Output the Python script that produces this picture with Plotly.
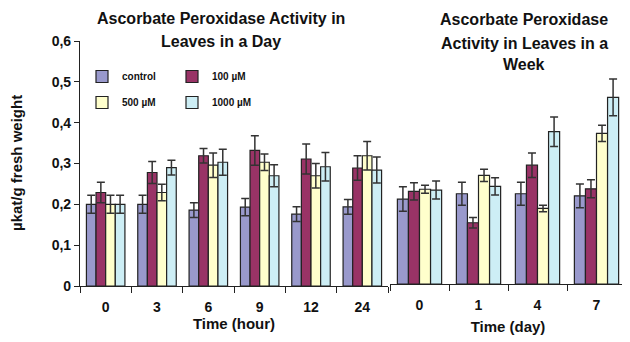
import plotly.graph_objects as go

series_names = ["control", "100 µM", "500 µM", "1000 µM"]
colors = ["#9999cc", "#993366", "#ffffcc", "#cdeef5"]

hour_labels = ["0", "3", "6", "9", "12", "24"]
day_labels = ["0", "1", "4", "7"]

hour_values = [
    [0.20, 0.20, 0.186, 0.193, 0.176, 0.194],
    [0.229, 0.278, 0.319, 0.332, 0.311, 0.289],
    [0.20, 0.229, 0.296, 0.303, 0.27, 0.319],
    [0.20, 0.29, 0.303, 0.27, 0.292, 0.284],
]
hour_errors = [
    [0.022, 0.022, 0.018, 0.021, 0.018, 0.018],
    [0.025, 0.027, 0.018, 0.036, 0.037, 0.03],
    [0.022, 0.02, 0.03, 0.02, 0.03, 0.035],
    [0.022, 0.018, 0.032, 0.027, 0.035, 0.032],
]

day_values = [
    [0.208, 0.221, 0.221, 0.216],
    [0.227, 0.150, 0.291, 0.233],
    [0.232, 0.266, 0.185, 0.369],
    [0.230, 0.239, 0.373, 0.457],
]
day_errors = [
    [0.03, 0.028, 0.028, 0.029],
    [0.021, 0.013, 0.03, 0.022],
    [0.01, 0.015, 0.008, 0.02],
    [0.022, 0.021, 0.036, 0.045],
]

y_ticks = [0, 0.1, 0.2, 0.3, 0.4, 0.5, 0.6]
y_ticktext = ["0", "0,1", "0,2", "0,3", "0,4", "0,5", "0,6"]

left_title = ["Ascorbate Peroxidase Activity in", "Leaves in a Day"]
right_title = ["Ascorbate Peroxidase", "Activity in Leaves in a", "Week"]
y_title = "µkat/g fresh weight"

FONT = "Liberation Sans, Arial, sans-serif"
# page has an 8px body margin; figure drawn in the remaining area
OFF = 8
W, H = 630 - OFF, 342 - OFF


def px(x):
    return (x - OFF) / W


def py(y):
    return 1 - (y - OFF) / H


fig = go.Figure()
for i, name in enumerate(series_names):
    fig.add_trace(go.Bar(
        x=hour_labels, y=hour_values[i], name=name,
        marker=dict(color=colors[i], line=dict(color="#222", width=1.2)),
        error_y=dict(type="data", array=hour_errors[i], color="#333", thickness=1.5, width=4),
        xaxis="x", yaxis="y",
        legend="legend" if i < 2 else "legend2",
    ))
for i, name in enumerate(series_names):
    fig.add_trace(go.Bar(
        x=day_labels, y=day_values[i], name=name, showlegend=False,
        marker=dict(color=colors[i], line=dict(color="#222", width=1.2)),
        error_y=dict(type="data", array=day_errors[i], color="#333", thickness=1.5, width=4),
        xaxis="x2", yaxis="y2",
    ))

tickfont = dict(family=FONT, size=14, color="#111", weight="bold")
legfont = dict(family=FONT, size=10, color="#111", weight="bold")

annotations = []
for text, yc in zip(left_title, [18, 41]):
    annotations.append(dict(text="<b>%s</b>" % text, x=px(221), y=py(yc), xref="paper", yref="paper",
                            xanchor="center", yanchor="middle", showarrow=False,
                            font=dict(family=FONT, size=16, color="#111")))
for text, yc in zip(right_title, [20, 43, 64]):
    annotations.append(dict(text="<b>%s</b>" % text, x=px(524), y=py(yc), xref="paper", yref="paper",
                            xanchor="center", yanchor="middle", showarrow=False,
                            font=dict(family=FONT, size=16, color="#111")))
annotations.append(dict(text="<b>%s</b>" % y_title, x=px(17), y=py(163), xref="paper", yref="paper",
                        xanchor="center", yanchor="middle", showarrow=False, textangle=-90,
                        font=dict(family=FONT, size=15, color="#111")))

fig.update_layout(
    width=W, height=H,
    margin=dict(l=0, r=0, t=0, b=0, autoexpand=False),
    paper_bgcolor="white", plot_bgcolor="white",
    barmode="group",
    font=dict(family=FONT, color="#111"),
    xaxis=dict(
        domain=[px(80), px(388)], type="category", tickson="boundaries",
        ticks="outside", ticklen=6, tickcolor="#222", tickwidth=1.2,
        showline=True, linecolor="#222", linewidth=1.2,
        tickfont=tickfont, ticklabelstandoff=8,
        title=dict(text="<b>Time (hour)</b>", font=dict(family=FONT, size=15), standoff=1),
        showgrid=False, anchor="y", automargin=False,
    ),
    yaxis=dict(
        domain=[py(286), py(41)], range=[0, 0.6],
        tickvals=y_ticks, ticktext=y_ticktext,
        ticks="outside", ticklen=5, tickcolor="#222", tickwidth=1.2,
        showline=True, linecolor="#222", linewidth=1.2,
        tickfont=tickfont,
        showgrid=False, zeroline=False, anchor="x", automargin=False,
    ),
    xaxis2=dict(
        domain=[px(390), px(626)], type="category", tickson="boundaries",
        ticks="outside", ticklen=6, tickcolor="#222", tickwidth=1.2,
        showline=True, linecolor="#222", linewidth=1.2,
        tickfont=tickfont, ticklabelstandoff=8,
        title=dict(text="<b>Time (day)</b>", font=dict(family=FONT, size=15), standoff=9),
        showgrid=False, anchor="y2", automargin=False,
    ),
    yaxis2=dict(
        domain=[py(284), py(39)], range=[0, 0.6],
        showticklabels=False, ticks="", showline=False,
        showgrid=False, zeroline=False, anchor="x2", automargin=False,
    ),
    bargap=0.25, bargroupgap=0,
    legend=dict(
        orientation="h", x=px(82), y=py(62), xanchor="left", yanchor="top",
        font=legfont, bgcolor="rgba(0,0,0,0)", entrywidth=45, itemwidth=30, tracegroupgap=0,
    ),
    legend2=dict(
        orientation="h", x=px(82), y=py(88), xanchor="left", yanchor="top",
        font=legfont, bgcolor="rgba(0,0,0,0)", entrywidth=45, itemwidth=30, tracegroupgap=0,
    ),
    annotations=annotations,
)

fig.write_html("out.html")
